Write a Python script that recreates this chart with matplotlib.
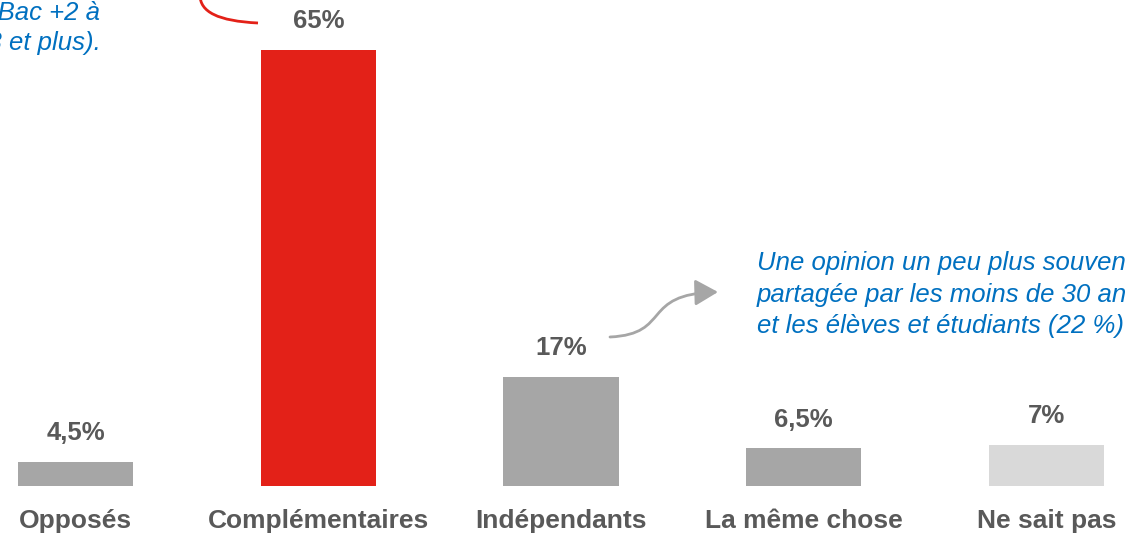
import matplotlib.pyplot as plt
from matplotlib.path import Path
from matplotlib.patches import PathPatch, FancyArrowPatch

plt.rcParams['font.family'] = ['Liberation Sans', 'DejaVu Sans']

categories = ['Opposés', 'Complémentaires', 'Indépendants', 'La même chose', 'Ne sait pas']
values = [4.5, 65, 17, 6.5, 7]
value_labels = ['4,5%', '65%', '17%', '6,5%', '7%']
colors = ['#A6A6A6', '#E32118', '#A6A6A6', '#A6A6A6', '#D9D9D9']

note_left = ['plus diplômés (Bac +2 à', 'Bac +3 et plus).']
note_right = ['Une opinion un peu plus souvent',
              'partagée par les moins de 30 ans',
              'et les élèves et étudiants (22 %).']

W, H = 1125, 535
fig = plt.figure(figsize=(W / 100, H / 100), dpi=100)

# bar axes: bottom edge sits on the visible baseline
ax = fig.add_axes([0, (H - 486) / H, 1, 486 / H])
x = range(len(categories))
ax.bar(x, values, width=0.474, color=colors)
ax.set_xlim(-75.5 / 242.75, (W - 75.5) / 242.75)
ax.set_ylim(0.97, 0.97 + 486 / 6.81)
ax.axis('off')

grey = '#595959'
for i, (v, lab) in enumerate(zip(values, value_labels)):
    ax.annotate(lab, xy=(i, v), xytext=(0, 28.5), textcoords='offset pixels',
                ha='center', va='center', fontsize=18.5, fontweight='bold',
                color=grey, annotation_clip=False)
    ax.annotate(categories[i], xy=(i, 0), xycoords=('data', 'axes fraction'),
                xytext=(0, -35), textcoords='offset pixels',
                ha='center', va='center', fontsize=19, fontweight='bold',
                color=grey, annotation_clip=False)

# overlay in pixel coordinates for the callouts
ov = fig.add_axes([0, 0, 1, 1], facecolor='none')
ov.set_xlim(0, W)
ov.set_ylim(H, 0)
ov.axis('off')

blue = '#0070C0'
for y, line in zip([20, 50], note_left):
    ov.text(101, y, line, ha='right', va='baseline', fontsize=18.5,
            fontstyle='italic', color=blue)
for y, line in zip([270, 302, 333], note_right):
    ov.text(757, y, line, ha='left', va='baseline', fontsize=18.5,
            fontstyle='italic', color=blue)

red_curve = Path([(258, 23), (218, 21), (200, 12), (200, -5)],
                 [Path.MOVETO, Path.CURVE4, Path.CURVE4, Path.CURVE4])
ov.add_patch(PathPatch(red_curve, facecolor='none', edgecolor='#E32118', lw=2))

grey_curve = Path([(610, 337), (672, 334), (640, 294), (718, 292)],
                  [Path.MOVETO, Path.CURVE4, Path.CURVE4, Path.CURVE4])
ov.add_patch(FancyArrowPatch(path=grey_curve, arrowstyle='-|>,head_length=7,head_width=4',
                             color='#A6A6A6', lw=2, mutation_scale=2))

fig.savefig('out.png', dpi=100)
